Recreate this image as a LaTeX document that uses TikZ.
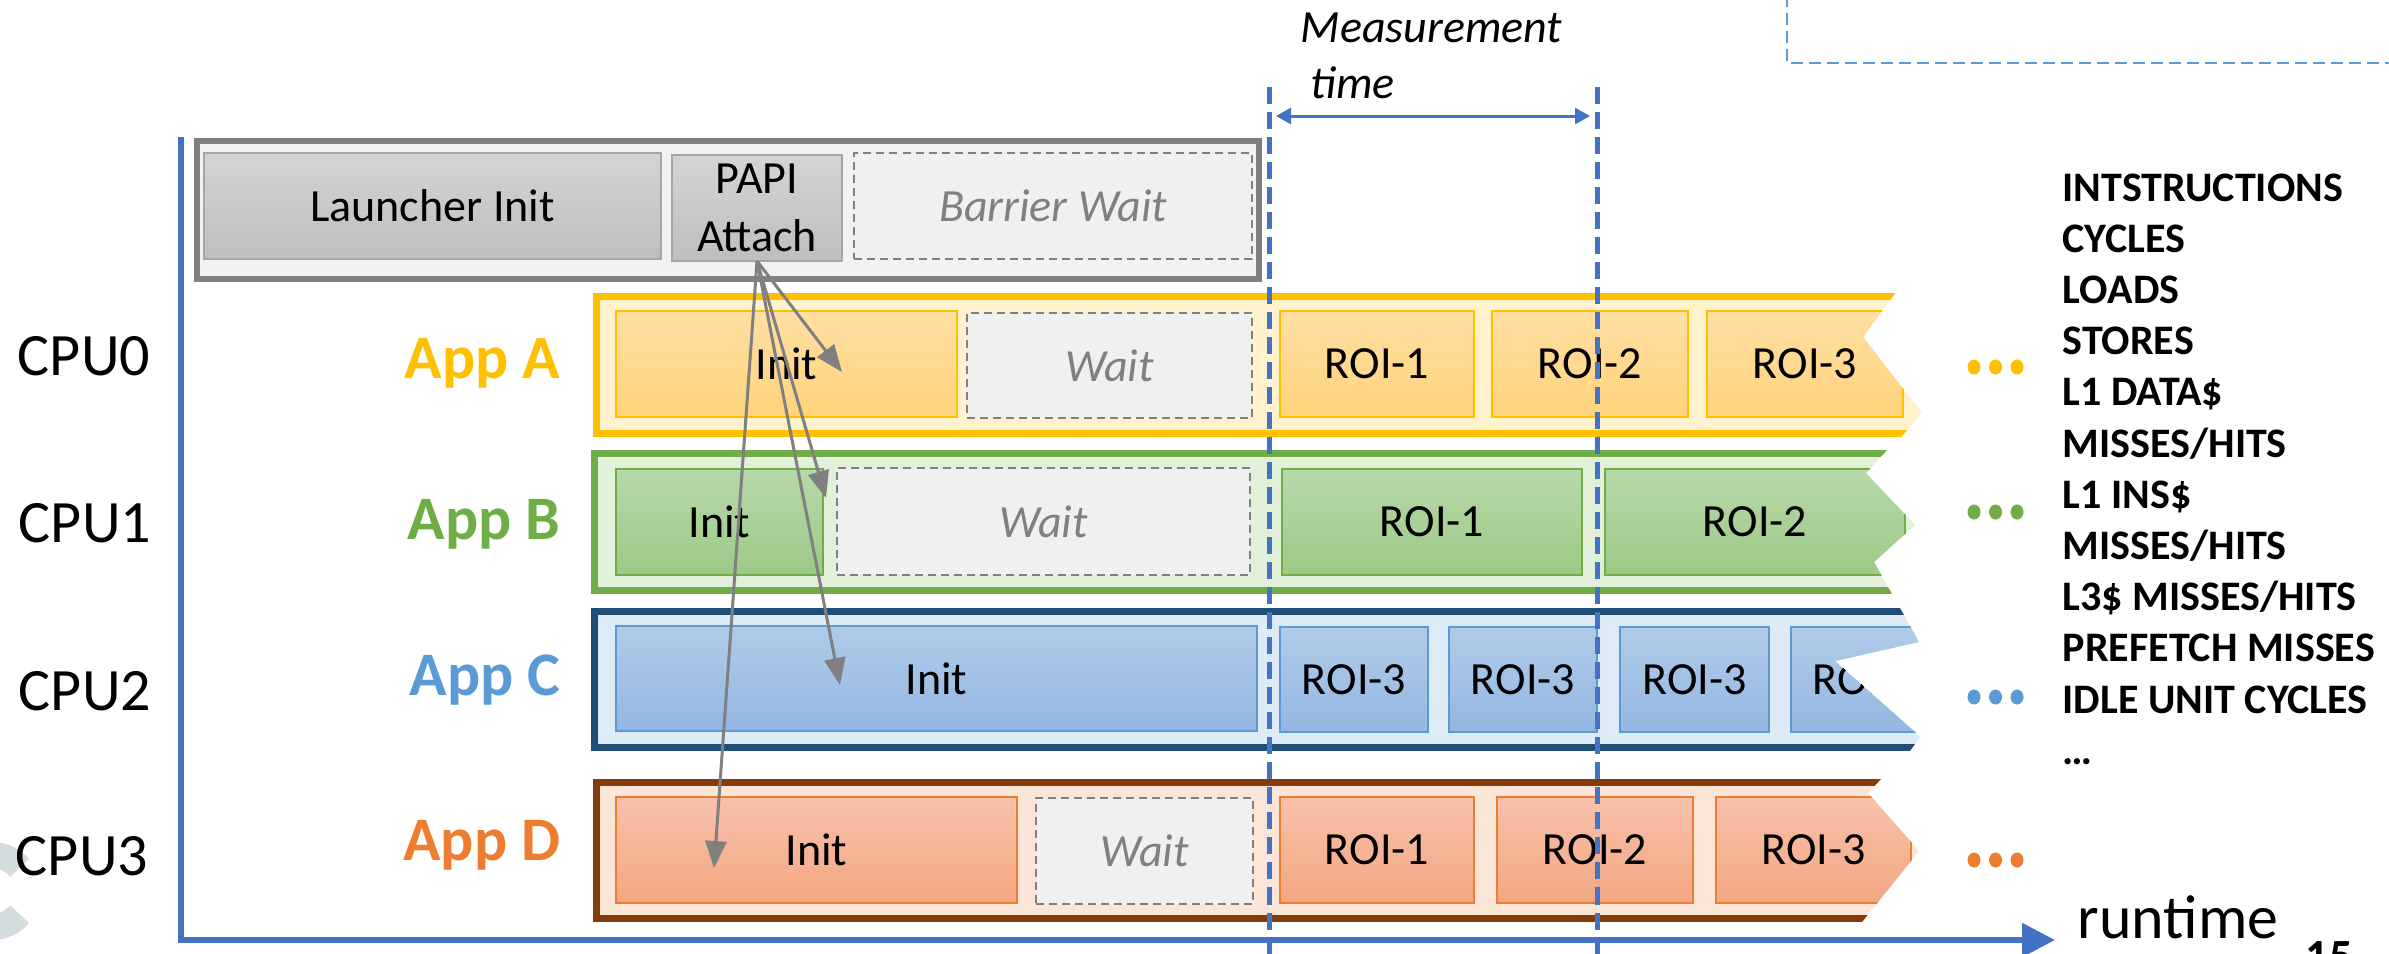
\documentclass[tikz,border=0pt]{standalone}
\usepackage{fontspec}
\setmainfont{Carlito}
\usetikzlibrary{arrows.meta}

\definecolor{axisblue}{HTML}{4472C4}
\definecolor{lightblue}{HTML}{5B9BD5}
\definecolor{wmark}{HTML}{D5DCDE}
% launcher (gray)
\definecolor{lnchline}{HTML}{808080}
\definecolor{lnchfill}{HTML}{F2F2F2}
\definecolor{lnchtop}{HTML}{D4D4D4}
\definecolor{lnchbot}{HTML}{BEBEBE}
\definecolor{lnchedge}{HTML}{A6A6A6}
% wait boxes
\definecolor{waitline}{HTML}{808080}
\definecolor{waitfill}{HTML}{F0F0F0}
% App A (yellow)
\definecolor{yelline}{HTML}{FFC000}
\definecolor{yelfill}{HTML}{FFF2CC}
\definecolor{yeltop}{HTML}{FFDFA3}
\definecolor{yelbot}{HTML}{FFD37C}
% App B (green)
\definecolor{grnline}{HTML}{70AD47}
\definecolor{grnfill}{HTML}{E2F0D9}
\definecolor{grntop}{HTML}{B7D8A9}
\definecolor{grnbot}{HTML}{9DC986}
% App C (blue)
\definecolor{bluouter}{HTML}{1F4E79}
\definecolor{blufill}{HTML}{DEEBF7}
\definecolor{bluline}{HTML}{5B9BD5}
\definecolor{blutop}{HTML}{B0CBE9}
\definecolor{blubot}{HTML}{93B7E1}
% App D (orange)
\definecolor{orgouter}{HTML}{843C0C}
\definecolor{orgfill}{HTML}{FBE5D6}
\definecolor{orgline}{HTML}{ED7D31}
\definecolor{orgtop}{HTML}{F7C2AA}
\definecolor{orgbot}{HTML}{F4A682}
\definecolor{arrowgray}{HTML}{808080}

\tikzset{
  % rectangle given by its corners (x1,y1) and (x2,y2), in picture units
  geom/.style n args={4}{minimum width={(#3-#1)*0.01cm}, minimum height={(#4-#2)*0.01cm},
    at={({(#1+#3)/2},{(#2+#4)/2})}},
  boxtxt/.style={font=\fontsize{13.1pt}{16.5pt}\selectfont},
  box/.style={inner sep=0pt, outer sep=0pt, line width=0.015cm, boxtxt},
  waitbox/.style={inner sep=0pt, draw=waitline, fill=waitfill, line width=0.025cm,
    dash pattern=on 0.08cm off 0.05cm, text=waitline,
    font=\fontsize{13.1pt}{16pt}\selectfont\itshape},
  rowbox/.style={inner sep=0pt, line width=0.065cm},
  cpulbl/.style={font=\fontsize{17.1pt}{20pt}\selectfont, anchor=base, inner sep=0pt},
  applbl/.style={font=\fontsize{17.6pt}{20pt}\selectfont\bfseries, anchor=base east, inner sep=0pt},
  metric/.style={font=\fontsize{11.95pt}{14pt}\selectfont\bfseries, anchor=base west, inner sep=0pt},
  papiarrow/.style={draw=arrowgray, line width=0.03cm, -{Triangle[length=0.27cm,width=0.21cm]}},
  mline/.style={draw=axisblue, line width=0.05cm, dash pattern=on 0.17cm off 0.08cm},
  axisline/.style={draw=axisblue, line width=0.055cm, line join=miter},
}

\begin{document}
\begin{tikzpicture}[x=0.01cm, y=-0.01cm]
\useasboundingbox (0,0) rectangle (2389,953);

% faint logo fragment in the lower left corner
\draw[wmark, line width=0.26cm] (-8,891) ++(40:0.36cm) arc[start angle=40, end angle=320, radius=0.36cm];

% frame of a box continuing off the top right
\draw[lightblue, line width=0.025cm, dash pattern=on 0.12cm off 0.06cm]
  (1787,-5) -- (1787,63) -- (2400,63);

% axes
\coordinate (origin) at (181,940);
\coordinate (ytop) at (181,137);
\coordinate (xend) at (2055,940);
\draw[axisline, -{Triangle[length=0.33cm,width=0.33cm]}] (ytop) -- (origin) -- (xend);
\node[font=\fontsize{17.6pt}{20pt}\selectfont, anchor=base west, inner sep=0pt] (runtime) at (2077,938) {runtime};
\node[font=\fontsize{13.1pt}{16pt}\selectfont\bfseries, anchor=base west, inner sep=0pt] (pagenum) at (2305,971) {15};

% launcher process
\node[rowbox, draw=lnchline, fill=lnchfill, geom={197}{141}{1259}{279}] (launcher) {};
\node[box, draw=lnchedge, top color=lnchtop, bottom color=lnchbot, geom={204}{153}{661}{259}] (linit) {Launcher Init};
\node[box, draw=lnchedge, top color=lnchtop, bottom color=lnchbot, align=center, geom={672}{155}{842}{261}] (papi) {PAPI\\Attach};
\node[waitbox, geom={854}{153}{1252}{259}] (barrier) {Barrier Wait};

% App A
\begin{scope}
\clip (590,292) -- (1896,292) -- (1863,337) -- (1922,413) -- (1900,438) -- (590,438) -- cycle;
\node[rowbox, draw=yelline, fill=yelfill, geom={596.3}{296.3}{1990}{433.7}] (rowA) {};
\node[box, draw=yelline, top color=yeltop, bottom color=yelbot, geom={616}{311}{957}{417}] (aInit) {Init};
\node[waitbox, geom={967}{313}{1252}{418}] (aWait) {Wait};
\node[box, draw=yelline, top color=yeltop, bottom color=yelbot, geom={1280}{311}{1474}{417}] (aR1) {ROI-1};
\node[box, draw=yelline, top color=yeltop, bottom color=yelbot, geom={1492}{311}{1688}{417}] (aR2) {ROI-2};
\node[box, draw=yelline, top color=yeltop, bottom color=yelbot, geom={1707}{311}{1903}{417}] (aR3) {ROI-3};
\end{scope}

% App B
\begin{scope}
\clip (588,450) -- (1887,450) -- (1866,473) -- (1915,525) -- (1874,562) -- (1892,594) -- (588,594) -- cycle;
\node[rowbox, draw=grnline, fill=grnfill, geom={594.3}{453.3}{1990}{590.7}] (rowB) {};
\node[box, draw=grnline, top color=grntop, bottom color=grnbot, geom={616}{469}{823}{575}] (bInit) {Init};
\node[waitbox, geom={837}{468}{1250}{575}] (bWait) {Wait};
\node[box, draw=grnline, top color=grntop, bottom color=grnbot, geom={1282}{469}{1582}{575}] (bR1) {ROI-1};
\node[box, draw=grnline, top color=grntop, bottom color=grnbot, geom={1605}{469}{1905}{575}] (bR2) {ROI-2};
\end{scope}

% App C
\begin{scope}
\clip (588,608) -- (1900,608) -- (1919,642) -- (1835,661) -- (1915,732) -- (1920,737) -- (1910,751) -- (588,751) -- cycle;
\node[rowbox, draw=bluouter, fill=blufill, geom={594.3}{611.3}{1990}{747.7}] (rowC) {};
\node[box, draw=bluline, top color=blutop, bottom color=blubot, geom={616}{626}{1257}{731}] (cInit) {Init};
\node[box, draw=bluline, top color=blutop, bottom color=blubot, geom={1280}{627}{1428}{732}] (cR1) {ROI-3};
\node[box, draw=bluline, top color=blutop, bottom color=blubot, geom={1449}{627}{1597}{732}] (cR2) {ROI-3};
\node[box, draw=bluline, top color=blutop, bottom color=blubot, geom={1620}{627}{1769}{732}] (cR3) {ROI-3};
\node[box, draw=bluline, top color=blutop, bottom color=blubot, geom={1791}{627}{1939}{732}] (cR4) {ROI-3};
\end{scope}

% App D
\begin{scope}
\clip (590,779) -- (1881,779) -- (1868,793) -- (1919,851) -- (1862,922) -- (590,922) -- cycle;
\node[rowbox, draw=orgouter, fill=orgfill, geom={596.3}{782.3}{1990}{918.7}] (rowD) {};
\node[box, draw=orgline, top color=orgtop, bottom color=orgbot, geom={616}{797}{1017}{903}] (dInit) {Init};
\node[waitbox, geom={1036}{798}{1253}{904}] (dWait) {Wait};
\node[box, draw=orgline, top color=orgtop, bottom color=orgbot, geom={1280}{797}{1474}{903}] (dR1) {ROI-1};
\node[box, draw=orgline, top color=orgtop, bottom color=orgbot, geom={1497}{797}{1693}{903}] (dR2) {ROI-2};
\node[box, draw=orgline, top color=orgtop, bottom color=orgbot, geom={1716}{797}{1911}{903}] (dR3) {ROI-3};
\end{scope}

% CPU and application labels
\node[cpulbl] (cpu0) at (84,375) {CPU0};
\node[cpulbl] (cpu1) at (85,542) {CPU1};
\node[cpulbl] (cpu2) at (85,710) {CPU2};
\node[cpulbl] (cpu3) at (82,875) {CPU3};
\node[applbl, text=yelline] (appA) at (561,378) {App A};
\node[applbl, text=grnline] (appB) at (561,539) {App B};
\node[applbl, text=lightblue] (appC) at (561,695) {App C};
\node[applbl, text=orgline] (appD) at (561,860) {App D};

% continuation dots
\foreach \yy/\cc in {367/yelline, 512/grnline, 697/lightblue, 860/orgline}
  \foreach \k in {0,1,2}
    \fill[\cc] ({1974+21.5*\k},\yy) ellipse [x radius=0.065cm, y radius=0.075cm];

% measured counters
\foreach \t [count=\i from 0] in {INTSTRUCTIONS, CYCLES, LOADS, STORES, L1 DATA\$,
    MISSES/HITS, L1 INS\$, MISSES/HITS, L3\$ MISSES/HITS, PREFETCH MISSES,
    IDLE UNIT CYCLES, …}
  \node[metric] (met\i) at (2062,{201+51.2*\i}) {\t};

% measurement window
\coordinate (mstartT) at (1269,87);
\coordinate (mstartB) at (1269,960);
\coordinate (mendT) at (1597,87);
\coordinate (mendB) at (1597,960);
\draw[mline] (mstartT) -- (mstartB);
\draw[mline] (mendT) -- (mendB);
\coordinate (mleft) at (1276,116);
\coordinate (mright) at (1590,116);
\draw[axisblue, line width=0.03cm, {Triangle[length=0.15cm,width=0.16cm]}-{Triangle[length=0.15cm,width=0.16cm]}] (mleft) -- (mright);
\node[font=\fontsize{13.1pt}{16pt}\selectfont\itshape, anchor=base west, inner sep=0pt] (mlabel1) at (1300,42) {Measurement};
\node[font=\fontsize{13.1pt}{16pt}\selectfont\itshape, anchor=base west, inner sep=0pt] (mlabel2) at (1310,98) {time};

% PAPI attaches to each application
\coordinate (tipA) at (842,372);
\coordinate (tipB) at (826,498);
\coordinate (tipC) at (840,685);
\coordinate (tipD) at (714,868);
\draw[papiarrow] (papi.south) -- (tipA);
\draw[papiarrow] (papi.south) -- (tipB);
\draw[papiarrow] (papi.south) -- (tipC);
\draw[papiarrow] (papi.south) -- (tipD);
\end{tikzpicture}
\end{document}
